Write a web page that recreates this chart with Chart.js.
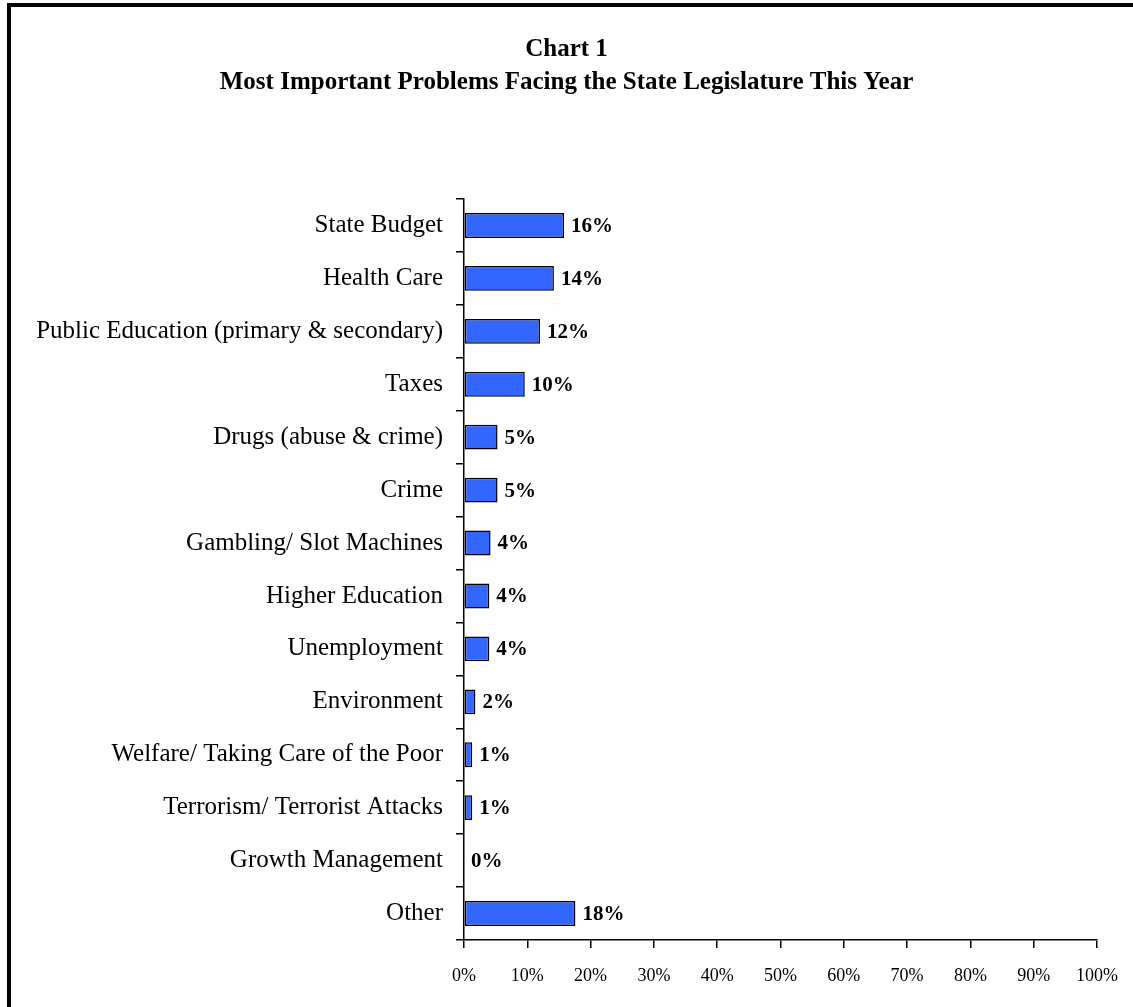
<!DOCTYPE html>
<html>
<head>
<meta charset="utf-8">
<title>Chart 1</title>
<script src="https://cdn.jsdelivr.net/npm/chart.js@4.4.1/dist/chart.umd.min.js"></script>
<style>
  html, body { margin: 0; padding: 0; background: #fff; overflow: hidden; }
  #wrap { position: relative; width: 1133px; height: 1007px; overflow: hidden; }
  #frame {
    position: absolute; left: 7px; top: 3px; width: 1300px; height: 1200px;
    border-left: 4px solid #000; border-top: 4px solid #000;
    box-sizing: border-box;
  }
  #chart { position: absolute; left: 0; top: 0; }
</style>
</head>
<body>
<div id="wrap">
  <div id="frame"></div>
  <canvas id="chart" width="1133" height="1007"></canvas>
</div>
<script>
// Problems, top to bottom
const categories = [
  'State Budget',
  'Health Care',
  'Public Education (primary & secondary)',
  'Taxes',
  'Drugs (abuse & crime)',
  'Crime',
  'Gambling/ Slot Machines',
  'Higher Education',
  'Unemployment',
  'Environment',
  'Welfare/ Taking Care of the Poor',
  'Terrorism/ Terrorist Attacks',
  'Growth Management',
  'Other'
];

// Share of respondents (%)
const shares = [15.8, 14.2, 12.0, 9.6, 5.3, 5.3, 4.2, 4.0, 4.0, 1.8, 1.3, 1.3, 0, 17.6];

// X axis ticks (%)
const xTicks = [0, 10, 20, 30, 40, 50, 60, 70, 80, 90, 100];

const titleLines = ['Chart 1', 'Most Important Problems Facing the State Legislature This Year'];

Chart.defaults.font.family = '"Liberation Serif", "Times New Roman", serif';
Chart.defaults.color = '#000';

// Writes the rounded percentage just right of each bar
const valueLabels = {
  id: 'valueLabels',
  afterDatasetsDraw(chart) {
    const ctx = chart.ctx;
    const meta = chart.getDatasetMeta(0);
    ctx.save();
    ctx.font = 'bold 21px "Liberation Serif", "Times New Roman", serif';
    ctx.fillStyle = '#000';
    ctx.textAlign = 'left';
    ctx.textBaseline = 'middle';
    meta.data.forEach((bar, i) => {
      ctx.fillText(Math.round(shares[i]) + '%', bar.x + 7, bar.y + 1);
    });
    ctx.restore();
  }
};

const ctx = document.getElementById('chart').getContext('2d');
const chart = new Chart(ctx, {
  type: 'bar',
  data: {
    labels: categories,
    datasets: [{
      data: shares,
      backgroundColor: '#3366ff',
      borderColor: '#000',
      borderWidth: 1.5,
      borderSkipped: false,
      barPercentage: 0.47,
      categoryPercentage: 1
    }]
  },
  options: {
    indexAxis: 'y',
    responsive: false,
    animation: false,
    layout: {
      padding: 0
    },
    plugins: {
      legend: { display: false },
      tooltip: { enabled: false },
      title: {
        display: true,
        text: titleLines,
        color: '#000',
        font: { size: 25, weight: 'bold', lineHeight: '33px' },
        padding: { top: 33, bottom: 100 }
      }
    },
    scales: {
      x: {
        type: 'linear',
        min: 0,
        max: 100,
        afterBuildTicks(scale) {
          scale.ticks = xTicks.map(v => ({ value: v }));
        },
        afterFit(scale) {
          // keep the plot area ending at 100% with a fixed right margin
          scale.height = 67;
          scale.paddingLeft = 0;
          scale.paddingRight = 36;
        },
        grid: {
          drawOnChartArea: false,
          drawTicks: true,
          tickLength: 8,
          color: '#000',
          lineWidth: 1.5
        },
        border: { display: true, color: '#000', width: 1.5 },
        ticks: {
          padding: 17,
          font: { size: 18 },
          color: '#000',
          callback: v => v + '%'
        }
      },
      y: {
        offset: true,
        afterFit(scale) {
          scale.width = 464;
        },
        grid: {
          offset: true,
          drawOnChartArea: false,
          drawTicks: true,
          tickLength: 8,
          color: '#000',
          lineWidth: 1.5
        },
        border: { display: true, color: '#000', width: 1.5 },
        ticks: {
          padding: 13,
          font: { size: 25 },
          color: '#000',
          autoSkip: false
        }
      }
    }
  },
  plugins: [valueLabels]
});
</script>
</body>
</html>
